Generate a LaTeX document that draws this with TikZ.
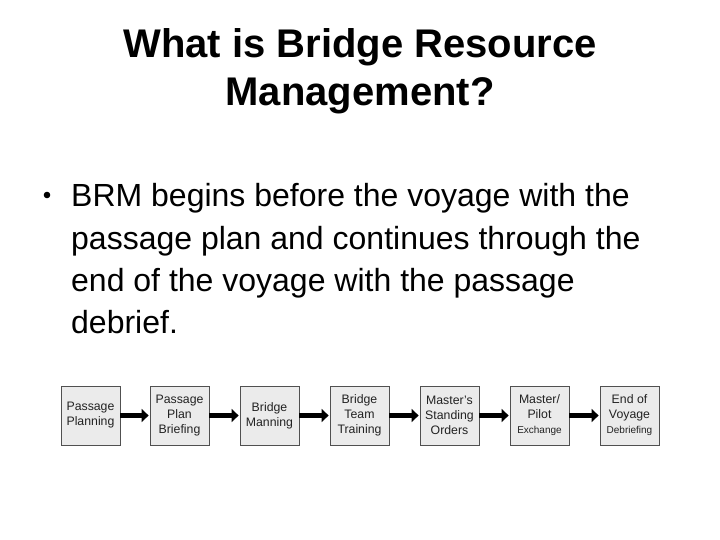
\documentclass[tikz,border=0pt]{standalone}
\usepackage{fontspec}
\setmainfont{Liberation Sans}
\usetikzlibrary{arrows.meta}
\definecolor{boxfill}{HTML}{EBEBEB}
\definecolor{boxline}{HTML}{505050}
\definecolor{boxtext}{HTML}{222222}
\tikzset{
  stepbox/.style={draw=boxline, line width=0.8pt, fill=boxfill, minimum width=59pt, minimum height=59pt, inner sep=0pt, align=center, text=boxtext, font=\fontsize{12.3}{15}\selectfont},
  flowarrow/.style={draw=black, line width=4.5pt, -{Triangle[length=7pt, width=13pt]}, shorten >=1pt},
  titleline/.style={anchor=base, inner sep=0pt, font=\fontsize{40}{48}\selectfont\bfseries},
  bodyline/.style={anchor=base west, inner sep=0pt, font=\fontsize{32}{38}\selectfont}
}
\begin{document}
\begin{tikzpicture}[x=1pt,y=-1pt]
\useasboundingbox (0,0) rectangle (720,540);
\fill[white] (0,0) rectangle (720,540);
% title
\node[titleline] (t1) at (360,58) {What is Bridge Resource};
\node[titleline] (t2) at (360,106) {Management?};
% bullet
\fill (47,195) circle (3.3pt);
\node[bodyline] (l1) at (71,207) {BRM begins before the voyage with the};
\node[bodyline] (l2) at (71,249) {passage plan and continues through the};
\node[bodyline] (l3) at (71,291) {end of the voyage with the passage};
\node[bodyline] (l4) at (71,333) {debrief.};
% flow boxes
\node[stepbox] (b1) at (90.5,415.5) {Passage\\Planning};
\node[stepbox] (b2) at (179.5,415.5) {Passage\\Plan\\Briefing};
\node[stepbox] (b3) at (269.5,415.5) {Bridge\\Manning};
\node[stepbox] (b4) at (359.5,415.5) {Bridge\\Team\\Training};
\node[stepbox] (b5) at (449.5,415.5) {Master's\\Standing\\Orders};
\node[stepbox] (b6) at (539.5,415.5) {Master/\\Pilot\\{\fontsize{10}{15}\selectfont Exchange}};
\node[stepbox] (b7) at (629.5,415.5) {End of\\Voyage\\{\fontsize{10}{15}\selectfont Debriefing}};
% arrows
\draw[flowarrow] (b1.east) -- (b2.west);
\draw[flowarrow] (b2.east) -- (b3.west);
\draw[flowarrow] (b3.east) -- (b4.west);
\draw[flowarrow] (b4.east) -- (b5.west);
\draw[flowarrow] (b5.east) -- (b6.west);
\draw[flowarrow] (b6.east) -- (b7.west);
\end{tikzpicture}
\end{document}
